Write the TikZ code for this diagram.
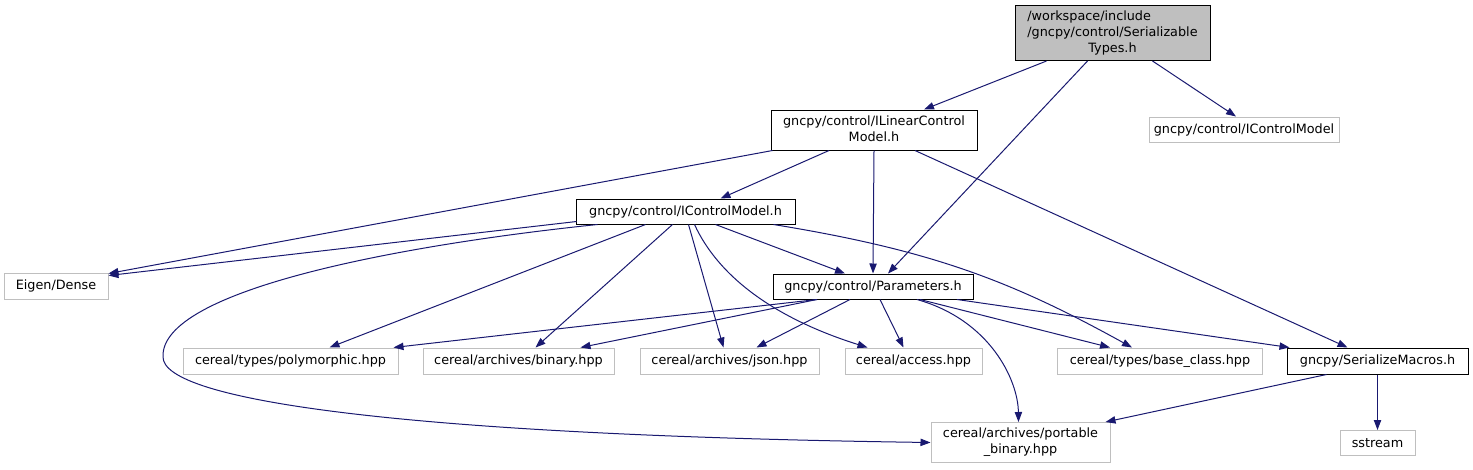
\documentclass[tikz,border=0pt]{standalone}
\usepackage{fontspec}
\setmainfont{DejaVu Sans}
\usetikzlibrary{arrows.meta,calc}
\definecolor{edgec}{HTML}{191970}
\definecolor{gbord}{HTML}{BFBFBF}
\begin{document}
\begin{tikzpicture}[x=0.75pt,y=-0.75pt,
  basebox/.style={rectangle, inner sep=0pt, line width=0.75pt, font=\fontsize{9.6}{12}\selectfont},
  ext/.style={basebox, draw=gbord, fill=white},
  loc/.style={basebox, draw=black, fill=white},
  root/.style={basebox, draw=black, fill=gbord},
  conn/.style={draw=edgec, line width=0.75pt, -{Triangle[length=7.5pt,width=5.5pt]}}]
\useasboundingbox (0,0) rectangle (1473,469);

\node[root, minimum width=146.25pt, minimum height=41.25pt] (top) at (1112.5,33)
  {\begin{tabular}{@{}l@{}}/workspace/include\\/gncpy/control/Serializable\\\multicolumn{1}{@{}c@{}}{Types.h}\end{tabular}};
\node[loc, minimum width=154.5pt, minimum height=30pt] (ilin) at (874,130)
  {\begin{tabular}{@{}l@{}}gncpy/control/ILinearControl\\\multicolumn{1}{@{}c@{}}{Model.h}\end{tabular}};
\node[ext, minimum width=142.5pt, minimum height=18.75pt] (icmg) at (1244,129.5) {gncpy/control/IControlModel};
\node[loc, minimum width=164.25pt, minimum height=18.75pt] (icm) at (685.5,211.5) {gncpy/control/IControlModel.h};
\node[ext, minimum width=78pt, minimum height=19.5pt] (eigen) at (56,286) {Eigen/Dense};
\node[loc, minimum width=150pt, minimum height=18.75pt] (param) at (873,286.5) {gncpy/control/Parameters.h};
\node[ext, minimum width=161.25pt, minimum height=19.5pt] (poly) at (290.5,361) {cereal/types/polymorphic.hpp};
\node[ext, minimum width=143.25pt, minimum height=19.5pt] (bin) at (518.5,361) {cereal/archives/binary.hpp};
\node[ext, minimum width=134.25pt, minimum height=19.5pt] (json) at (729.5,361) {cereal/archives/json.hpp};
\node[ext, minimum width=102.75pt, minimum height=19.5pt] (access) at (913.5,361) {cereal/access.hpp};
\node[ext, minimum width=153.75pt, minimum height=19.5pt] (base) at (1160,361) {cereal/types/base\_class.hpp};
\node[loc, minimum width=135.75pt, minimum height=19.5pt] (smac) at (1377.5,361) {gncpy/SerializeMacros.h};
\node[ext, minimum width=134.25pt, minimum height=30pt] (port) at (1020.5,442.5)
  {\begin{tabular}{@{}l@{}}cereal/archives/portable\\\multicolumn{1}{@{}c@{}}{\_binary.hpp}\end{tabular}};
\node[ext, minimum width=56.25pt, minimum height=18.75pt] (sstr) at (1377.5,443) {sstream};

% from root
\draw[conn] ($(top.south)+(-66,0)$) -- ($(ilin.north)+(50,0)$);
\draw[conn] ($(top.south)+(-25,0)$) -- ($(param.north)+(15,0)$);
\draw[conn] ($(top.south)+(40,0)$) -- ($(icmg.north)+(-8,0)$);
% from ILinearControlModel
\draw[conn] ($(ilin.south west)+(2,0)$) -- ($(eigen.north east)+(0,1)$);
\draw[conn] ($(ilin.south)+(-45,0)$) -- ($(icm.north)+(35,0)$);
\draw[conn] (ilin.south) -- (param.north);
\draw[conn] ($(ilin.south)+(41,0)$) -- ($(smac.north)+(-30,0)$);
% from IControlModel.h
\draw[conn] ($(icm.south west)+(1,-3)$) -- ($(eigen.north east)+(0,3)$);
\draw[conn] ($(icm.south)+(-88,0)$) .. controls (400,245) and (160,290) .. (163,357)
  .. controls (163,400) and (400,435) .. (port.west);
\draw[conn] ($(icm.south)+(-40,0)$) -- ($(poly.north)+(39,0)$);
\draw[conn] ($(icm.south)+(-13,0)$) -- ($(bin.north)+(17,0)$);
\draw[conn] ($(icm.south)+(3,0)$) -- ($(json.north)+(-6,0)$);
\draw[conn] ($(icm.south)+(9,0)$) .. controls (720,280) and (780,320) .. ($(access.north)+(-46,0)$);
\draw[conn] ($(icm.south)+(30,0)$) -- ($(param.north)+(-28,0)$);
\draw[conn] ($(icm.south)+(88,0)$) .. controls (930,250) and (1010,280) .. ($(base.north)+(-28,0)$);
% from Parameters.h
\draw[conn] ($(param.south)+(-56,0)$) -- ($(poly.north east)+(-5,0)$);
\draw[conn] ($(param.south)+(-56,0)$) -- ($(bin.north)+(62,0)$);
\draw[conn] ($(param.south)+(-23,0)$) -- ($(json.north)+(27,0)$);
\draw[conn] ($(param.south)+(7,0)$) -- ($(access.north)+(-10,0)$);
\draw[conn] ($(param.south)+(44,0)$) .. controls (990,320) and (1018,380) .. ($(port.north)+(-2,0)$);
\draw[conn] ($(param.south)+(47,0)$) -- ($(base.north)+(-50,0)$);
\draw[conn] ($(param.south)+(84,0)$) -- ($(smac.north west)+(3,0)$);
% from SerializeMacros.h
\draw[conn] ($(smac.south)+(-51,0)$) -- ($(port.north east)+(-5,0)$);
\draw[conn] (smac.south) -- (sstr.north);
\end{tikzpicture}
\end{document}
